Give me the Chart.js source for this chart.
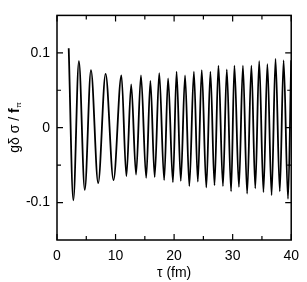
<!DOCTYPE html>
<html>
<head>
  <meta charset="UTF-8">
  <title>Oscillation</title>
  <script src="https://cdn.jsdelivr.net/npm/chart.js"></script>
  <style>
    html, body { margin: 0; padding: 0; background: #fff; }
    #wrap { width: 307px; height: 282px; }
  </style>
</head>
<body>
  <div id="wrap"><canvas id="osc"></canvas></div>
  <script>
    // extrema (tau in fm, g delta sigma / f_pi)
    const tau = [2.0, 2.79, 3.74, 4.74, 5.8, 7.03, 8.3, 9.65,
      11.0, 11.85, 12.67, 13.5, 14.34, 15.23, 15.95, 16.68, 17.46, 18.3, 18.97, 19.8,
      20.42, 21.14, 21.87, 22.6, 23.38, 24.05, 24.72, 25.5, 26.2, 26.9, 27.57, 28.34, 29.0, 29.73, 30.3,
      31.07, 31.75, 32.47, 33.2, 33.86, 34.53, 35.26, 35.93, 36.65, 37.32, 38.05, 38.7, 39.45, 40.0];
    const sigma = [0.106, -0.097, 0.089, -0.083, 0.077, -0.074, 0.072, -0.070,
      0.070, -0.065, 0.058, -0.0625, 0.070, -0.067, 0.0625, -0.066, 0.073, -0.070, 0.066, -0.073,
      0.075, -0.071, 0.070, -0.078, 0.075, -0.072, 0.077, -0.080, 0.075, -0.077, 0.083, -0.078, 0.078, -0.085, 0.083,
      -0.079, 0.083, -0.088, 0.083, -0.081, 0.089, -0.086, 0.085, -0.090, 0.092, -0.085, 0.090, -0.095, 0.090];

    const xMajor = [0, 10, 20, 30, 40];
    const xMinor = [5, 15, 25, 35];
    const yMajor = [-0.1, 0, 0.1];
    const yMinor = [-0.05, 0.05];
    const yLabels = ['-0.1', '0', '0.1'];

    const points = tau.map((t, i) => ({ x: t, y: sigma[i] }));

    // frame + inward ticks + y title with subscript
    const framePlugin = {
      id: 'frame',
      afterDraw(chart) {
        const { ctx, chartArea: a, scales } = chart;
        const xs = scales.x, ys = scales.y;
        ctx.save();
        ctx.strokeStyle = '#000';
        ctx.lineWidth = 1.5;
        ctx.strokeRect(a.left, a.top, a.right - a.left, a.bottom - a.top);
        ctx.lineWidth = 1.2;
        ctx.beginPath();
        const xt = (v, len) => {
          const p = xs.getPixelForValue(v);
          ctx.moveTo(p, a.bottom); ctx.lineTo(p, a.bottom - len);
          ctx.moveTo(p, a.top); ctx.lineTo(p, a.top + len);
        };
        const yt = (v, len) => {
          const p = ys.getPixelForValue(v);
          ctx.moveTo(a.left, p); ctx.lineTo(a.left + len, p);
          ctx.moveTo(a.right, p); ctx.lineTo(a.right - len, p);
        };
        xMajor.forEach(v => xt(v, 6));
        xMinor.forEach(v => xt(v, 4));
        yMajor.forEach(v => yt(v, 6));
        yMinor.forEach(v => yt(v, 4));
        ctx.stroke();

        // y axis title: g δ σ / f_π
        ctx.translate(15, (a.top + a.bottom) / 2);
        ctx.rotate(-Math.PI / 2);
        ctx.fillStyle = '#000';
        ctx.textBaseline = 'middle';
        const main = '14px Arial';
        const bold = 'bold 14px Arial';
        const sub = '8px Arial';
        ctx.font = main;
        const s1 = 'gδ σ / ';
        const w1 = ctx.measureText(s1).width;
        ctx.font = bold;
        const w2 = ctx.measureText('f').width;
        ctx.font = sub;
        const w3 = ctx.measureText('π').width;
        let x0 = -(w1 + w2 + w3) / 2;
        ctx.font = main;
        ctx.fillText(s1, x0, 0);
        ctx.font = bold;
        ctx.fillText('f', x0 + w1, 0);
        ctx.font = sub;
        ctx.fillText('π', x0 + w1 + w2 + 0.5, 4);
        ctx.restore();
      }
    };

    new Chart(document.getElementById('osc'), {
      type: 'line',
      data: {
        datasets: [{
          data: points,
          borderColor: '#000',
          borderWidth: 1.8,
          pointRadius: 0,
          fill: false,
          cubicInterpolationMode: 'monotone'
        }]
      },
      options: {
        responsive: true,
        maintainAspectRatio: false,
        animation: false,
        layout: { padding: { top: 1, right: 10, left: 0, bottom: 0 } },
        plugins: { legend: { display: false }, tooltip: { enabled: false } },
        scales: {
          x: {
            type: 'linear',
            min: 0, max: 40,
            grid: { display: false, drawTicks: false },
            border: { display: false },
            afterBuildTicks: s => { s.ticks = xMajor.map(v => ({ value: v })); },
            afterFit: s => { s.height = 42; },
            ticks: { padding: 8, color: '#000', font: { family: 'Arial', size: 14 } },
            title: { display: true, text: 'τ (fm)', color: '#000', padding: { top: 0, bottom: 0 }, font: { family: 'Arial', size: 14 } }
          },
          y: {
            min: -0.15, max: 0.15,
            grid: { display: false, drawTicks: false },
            border: { display: false },
            afterBuildTicks: s => { s.ticks = yMajor.map(v => ({ value: v })); },
            afterFit: s => { s.width = 57; },
            ticks: {
              padding: 7, color: '#000', font: { family: 'Arial', size: 14 },
              callback: (v, i) => yLabels[i]
            }
          }
        }
      },
      plugins: [framePlugin]
    });
  </script>
</body>
</html>
